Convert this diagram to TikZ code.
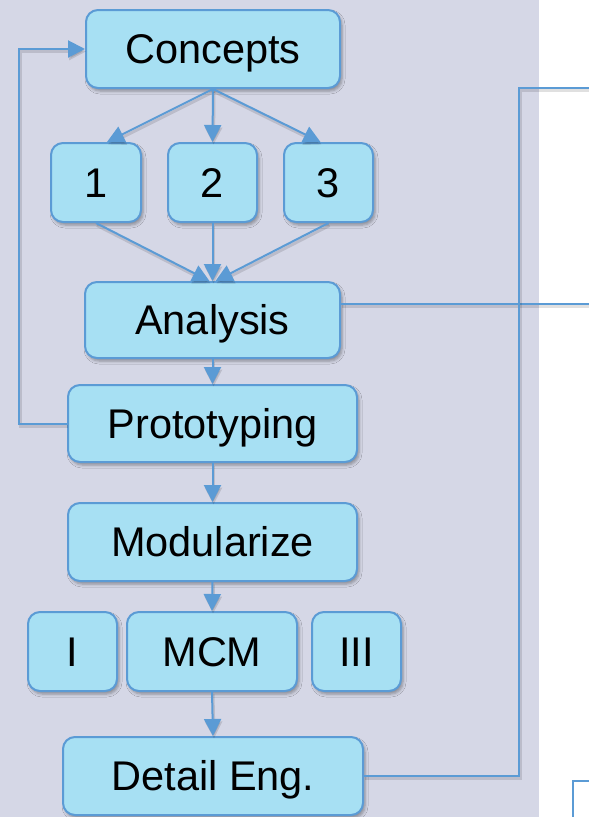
\documentclass[tikz,border=0pt]{standalone}
\usepackage{fontspec}
\setmainfont{Liberation Sans}
\usetikzlibrary{arrows.meta,shadows.blur}

\definecolor{panelbg}{HTML}{D5D7E6}
\definecolor{boxfill}{HTML}{A7E0F3}
\definecolor{boxline}{HTML}{5B9BD5}

\tikzset{
  stagebox/.style={draw=boxline, line width=2pt, fill=boxfill, rounded corners=12pt,
    inner sep=0pt, font=\fontsize{41.5}{48}\selectfont, text=black,
    text height=29.7pt, text depth=-6pt,
    blur shadow={shadow xshift=2pt, shadow yshift=-3pt, shadow blur radius=3pt, shadow opacity=35}},
  link/.style={draw=boxline, line width=2pt,
    preaction={draw=black, opacity=0.12, line width=3pt, transform canvas={shift={(1pt,-2.5pt)}}}},
  arr/.style={link, -{Triangle[length=17pt 0,width=17pt 0]}},
}

\begin{document}
\begin{tikzpicture}[x=1pt,y=-1pt]
  \useasboundingbox (0,0) rectangle (589,817);
  \clip (0,0) rectangle (589,817);

  % shaded panel behind the flow
  \fill[panelbg] (0,0) rectangle (539,817);

  % stages
  \node[stagebox, minimum width=254pt, minimum height=78pt] (concepts) at (213,49) {Concepts};
  \node[stagebox, minimum width=90pt, minimum height=79pt] (one) at (96,182.5) {1};
  \node[stagebox, minimum width=89pt, minimum height=79pt] (two) at (212.5,182.5) {2};
  \node[stagebox, minimum width=89pt, minimum height=79pt] (three) at (328.5,182.5) {3};
  \node[stagebox, minimum width=255pt, minimum height=76pt] (analysis) at (212.5,320) {Analysis};
  \node[stagebox, minimum width=289pt, minimum height=77pt] (proto) at (212.5,423.5) {Prototyping};
  \node[stagebox, minimum width=289pt, minimum height=78pt] (modul) at (212.5,542) {Modularize};
  \node[stagebox, minimum width=89pt, minimum height=79pt] (modI) at (72.5,651.5) {I};
  \node[stagebox, minimum width=170pt, minimum height=79pt] (mcm) at (212,651.5) {MCM};
  \node[stagebox, minimum width=89pt, minimum height=79pt] (modIII) at (356.5,651.5) {III};
  \node[stagebox, minimum width=300pt, minimum height=78pt] (detail) at (213,776) {Detail Eng.};

  % partly visible box at the lower right
  \draw[draw=boxline, line width=2pt, fill=white,
    blur shadow={shadow xshift=2pt, shadow yshift=-3pt, shadow blur radius=3pt, shadow opacity=30}]
    (573,781) rectangle (610,840);

  % free ends leaving the page on the right
  \coordinate (exitA) at (600,304);
  \coordinate (exitD) at (600,88);

  % branching from Concepts
  \draw[arr] (concepts.south) -- ([xshift=11pt]one.north);
  \draw[arr] (concepts.south) -- (two.north);
  \draw[arr] (concepts.south) -- ([xshift=-8pt]three.north);

  % merging into Analysis
  \draw[arr] (one.south) -- ([xshift=-3pt]analysis.north);
  \draw[arr] (two.south) -- (analysis.north);
  \draw[arr] (three.south) -- ([xshift=3pt]analysis.north);

  % main chain
  \draw[arr] (analysis.south) -- (proto.north);
  \draw[arr] (proto.south) -- (modul.north);
  \draw[arr] (modul.south) -- (mcm.north);
  \draw[arr] (mcm.south) -- (detail.north);

  % feedback loop from Prototyping back to Concepts
  \draw[arr] (proto.west) -- ++(-48,0) |- (concepts.west);

  % outgoing links
  \draw[link] ([yshift=16pt]analysis.east) -- (exitA);
  \draw[link] (detail.east) -- ++(155,0) |- (exitD);
\end{tikzpicture}
\end{document}
